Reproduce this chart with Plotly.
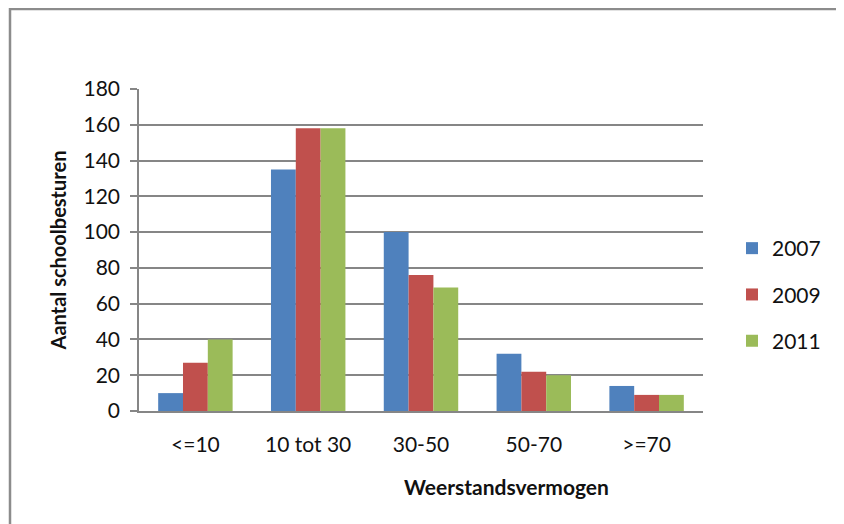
import plotly.graph_objects as go

categories = ["<=10", "10 tot 30", "30-50", "50-70", ">=70"]
years = ["2007", "2009", "2011"]
values_2007 = [10, 135, 100, 32, 14]
values_2009 = [27, 158, 76, 22, 9]
values_2011 = [40, 158, 69, 20, 9]
y_ticks = [0, 20, 40, 60, 80, 100, 120, 140, 160, 180]

colors = ["#4F81BD", "#C0504D", "#9BBB59"]
series = [values_2007, values_2009, values_2011]

FONT = "Lato, Carlito, 'Open Sans', sans-serif"

fig = go.Figure()
for i, (yr, vals) in enumerate(zip(years, series)):
    fig.add_trace(go.Bar(
        x=categories, y=vals, name=yr,
        marker=dict(color=colors[i], line=dict(width=0)),
        legendgroup=yr,
    ))

# page body has an 8px margin, so figure origin sits at (8, 8) of the window
OFF = 8
PL, PR, PT, PB = 139, 703, 89, 411   # plot area in window pixels
W, H = 844 - OFF, 524 - OFF
L, T = PL - OFF, PT - OFF
R = W - (PR - OFF)
B = H - (PB - OFF)
pw = PR - PL
ph = PB - PT

def px_x(p):
    return (p - PL) / pw

def px_y(p):
    return (PB - p) / ph

fig.update_layout(
    width=W, height=H,
    margin=dict(l=L, r=R, t=T, b=B, autoexpand=False),
    paper_bgcolor="white", plot_bgcolor="white",
    barmode="group", bargap=0.34, bargroupgap=0,
    font=dict(family=FONT, size=21, color="#111111"),
    showlegend=True,
    legend=dict(
        x=px_x(732), y=px_y(228), xanchor="left", yanchor="top",
        font=dict(family=FONT, size=21, color="#111111"),
        tracegroupgap=16, bgcolor="rgba(0,0,0,0)",
        itemwidth=30,
    ),
    xaxis=dict(
        showline=True, linecolor="#868686", linewidth=1.5,
        ticks="", showgrid=False,
        tickfont=dict(family=FONT, size=21),
        ticklabelstandoff=14,
    ),
    yaxis=dict(
        range=[0, 180], tickvals=y_ticks,
        showline=True, linecolor="#868686", linewidth=1.5,
        ticks="outside", ticklen=7, tickcolor="#868686", tickwidth=1.5,
        showgrid=True, gridcolor="#868686", gridwidth=1.5,
        zeroline=False,
        tickfont=dict(family=FONT, size=21),
        ticklabelstandoff=6,
        title=dict(text="<b>Aantal schoolbesturen</b>", font=dict(family=FONT, size=20), standoff=12),
    ),
    annotations=[
        dict(text="<b>Weerstandsvermogen</b>", xref="paper", yref="paper",
             x=px_x(506), y=px_y(486), xanchor="center", yanchor="middle",
             showarrow=False, font=dict(family=FONT, size=21, color="#111111")),
    ],
    shapes=[
        dict(type="rect", xref="paper", yref="paper",
             x0=px_x(10), x1=px_x(839), y0=px_y(540), y1=px_y(9),
             line=dict(color="#8c8c8c", width=2.5), layer="below"),
    ],
)

fig.write_html("out.html")
